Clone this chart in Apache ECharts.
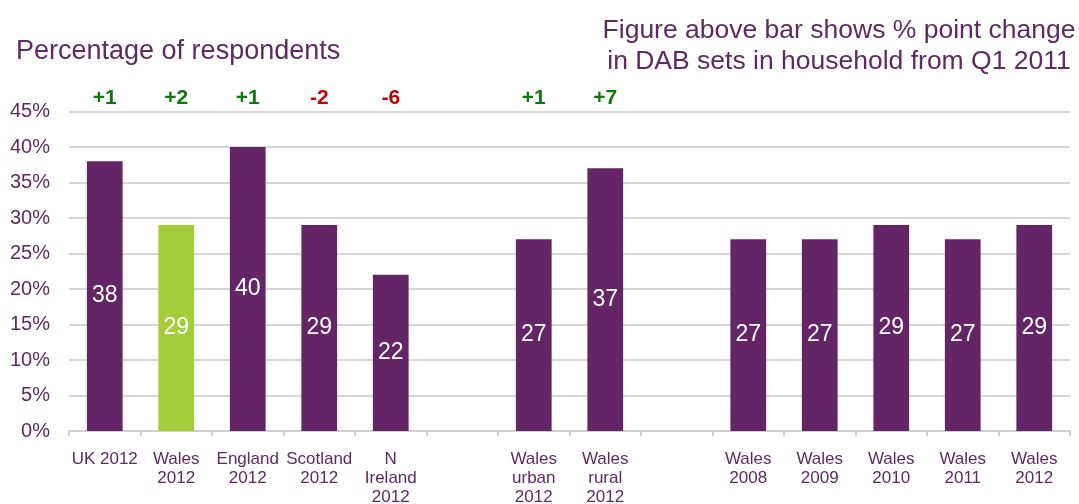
<!DOCTYPE html>
<html><head><meta charset="utf-8">
<script src="https://cdn.jsdelivr.net/npm/echarts@6/dist/echarts.min.js"></script>
<style>html,body{margin:0;padding:0;background:#fff}#c{width:1079px;height:504px}</style>
</head><body><div id="c"></div>
<script>
const categories = ['UK 2012','Wales\n2012','England\n2012','Scotland\n2012','N\nIreland\n2012','','Wales\nurban\n2012','Wales\nrural\n2012','','Wales\n2008','Wales\n2009','Wales\n2010','Wales\n2011','Wales\n2012'];
const values = [38,29,40,29,22,null,27,37,null,27,27,29,27,29];
const changes = ['+1','+2','+1','-2','-6','','+1','+7','','','','','',''];
const highlightIndex = 1;
const yTicks = [0,5,10,15,20,25,30,35,40,45];

const purple = '#632565', green = '#a5cd39', txt = '#5f2a62';
const chart = echarts.init(document.getElementById('c'));
chart.setOption({
  animation:false,
  textStyle:{fontFamily:'Liberation Sans, Arial, sans-serif'},
  title:[
    {text:'Percentage of respondents',left:11,top:33,textStyle:{fontSize:27,fontWeight:'normal',color:txt}},
    {text:'Figure above bar shows % point change\nin DAB sets in household from Q1 2011',left:834,top:10,textAlign:'center',
     textStyle:{fontSize:26.5,fontWeight:'normal',color:txt,lineHeight:31,align:'center'}}
  ],
  grid:{left:69,right:9,top:111.5,bottom:73,containLabel:false,outerBoundsMode:'none'},
  xAxis:[
    {type:'category',data:categories,
     axisLine:{lineStyle:{color:'#d0d0d0',width:2}},
     axisTick:{show:true,length:5,lineStyle:{color:'#d0d0d0',width:2}},
     axisLabel:{interval:0,color:txt,fontSize:17,lineHeight:19,margin:19}},
    {type:'category',data:changes,position:'top',
     axisLine:{show:false},axisTick:{show:false},
     axisLabel:{interval:0,margin:3,fontSize:21,fontWeight:'bold',
       formatter:v=>v? (v[0]==='-'?'{n|'+v+'}':'{p|'+v+'}'):'',
       rich:{p:{color:'#0b7a0b',fontSize:21,fontWeight:'bold'},n:{color:'#c00000',fontSize:21,fontWeight:'bold'}}}}
  ],
  yAxis:{type:'value',min:0,max:45,interval:5,
    axisLabel:{formatter:v=>v+'%',color:txt,fontSize:20,margin:19},
    axisLine:{show:false},axisTick:{show:false},
    splitLine:{lineStyle:{color:'#d6d6d6',width:2}}},
  series:[{type:'bar',barWidth:'50%',xAxisIndex:0,
    data:values.map((v,i)=>({value:v,itemStyle:{color:i===highlightIndex?green:purple}})),
    label:{show:true,position:'inside',color:'#fff',fontSize:23,formatter:p=>p.value==null?'':p.value}
  }]
});
</script></body></html>
